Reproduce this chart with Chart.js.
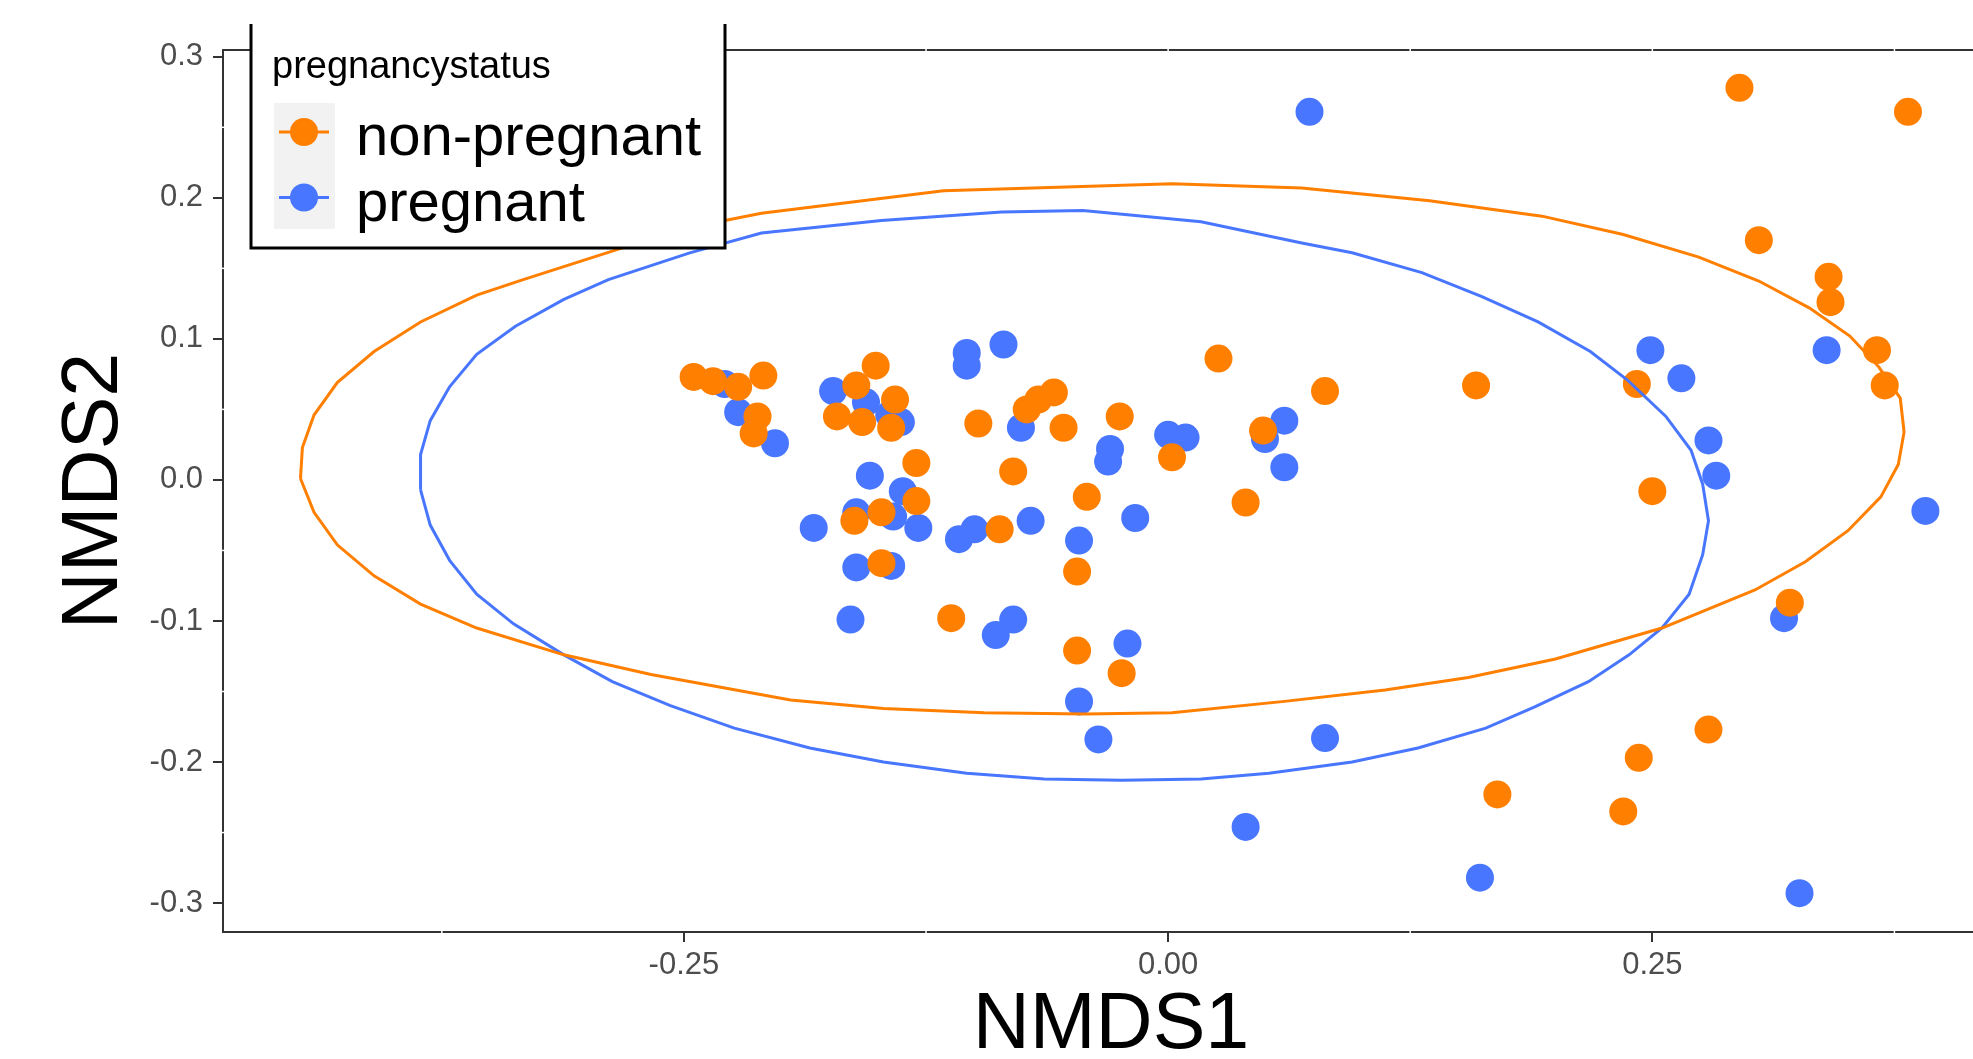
<!DOCTYPE html>
<html lang="en">
<head>
<meta charset="UTF-8">
<title>NMDS ordination</title>
<script src="https://cdn.jsdelivr.net/npm/chart.js"></script>
<style>
  html, body { margin: 0; padding: 0; background: #fff; overflow: hidden; }
  #wrap { width: 1973px; height: 1059px; overflow: hidden; }
</style>
</head>
<body>
<div id="wrap"><canvas id="nmds" width="2013" height="1059"></canvas></div>
<script>
// groups and axis breaks
const groups = ['non-pregnant', 'pregnant'];
const legendTitle = 'pregnancystatus';
const xTicks = [-0.25, 0, 0.25];
const yTicks = [-0.3, -0.2, -0.1, 0, 0.1, 0.2, 0.3];
const xMinor = [-0.375, -0.125, 0.125, 0.375];
const yMinor = [-0.25, -0.15, -0.05, 0.05, 0.15, 0.25];

// site scores, non-pregnant
const nonPregX = [-0.245, -0.235, -0.222, -0.209, -0.212, -0.214, -0.151, -0.161, -0.141, -0.171,
  -0.158, -0.143, -0.098, -0.059, -0.067, -0.073, -0.054, -0.025, 0.002, -0.130,
  -0.130, -0.148, -0.162, -0.087, -0.080, -0.042, -0.047, -0.148, -0.112, -0.047,
  -0.024, 0.026, 0.081, 0.049, 0.040, 0.159, 0.242, 0.250, 0.243, 0.170,
  0.235, 0.321, 0.279, 0.295, 0.382, 0.305, 0.341, 0.342, 0.366, 0.370];
const nonPregY = [0.073, 0.070, 0.066, 0.074, 0.045, 0.033, 0.081, 0.067, 0.057, 0.045,
  0.041, 0.037, 0.040, 0.062, 0.057, 0.050, 0.037, 0.045, 0.016, 0.012,
  -0.015, -0.023, -0.029, -0.035, 0.006, -0.012, -0.065, -0.059, -0.098, -0.121,
  -0.137, 0.086, 0.063, 0.035, -0.016, 0.067, 0.068, -0.008, -0.197, -0.223,
  -0.235, -0.087, -0.177, 0.278, 0.261, 0.170, 0.144, 0.126, 0.092, 0.067];

// site scores, pregnant
const pregX = [-0.229, -0.222, -0.203, -0.173, -0.156, -0.144, -0.138, -0.104, -0.104, -0.085,
  -0.076, -0.030, -0.031, 0.000, 0.009, -0.154, -0.137, -0.161, -0.142, -0.183,
  -0.129, -0.108, -0.100, -0.071, -0.046, -0.017, -0.161, -0.143, -0.164, -0.080,
  -0.089, -0.021, -0.046, -0.036, 0.050, 0.060, 0.060, 0.249, 0.265, 0.279,
  0.283, 0.081, 0.040, 0.318, 0.161, 0.326, 0.340, 0.391, 0.073];
const pregY = [0.068, 0.048, 0.026, 0.063, 0.055, 0.046, 0.041, 0.090, 0.081, 0.096,
  0.037, 0.022, 0.013, 0.032, 0.030, 0.003, -0.008, -0.023, -0.026, -0.034,
  -0.034, -0.042, -0.035, -0.029, -0.043, -0.027, -0.062, -0.061, -0.099, -0.099,
  -0.110, -0.116, -0.157, -0.184, 0.029, 0.042, 0.009, 0.092, 0.072, 0.028,
  0.003, -0.183, -0.246, -0.098, -0.282, -0.293, 0.092, -0.022, 0.261];

// ellipse outlines
const ellNonPregX = [-0.448, -0.447, -0.441, -0.429, -0.410, -0.386, -0.357, -0.333, -0.283, -0.247,
  -0.210, -0.116, 0.002, 0.069, 0.135, 0.193, 0.235, 0.274, 0.305, 0.331,
  0.352, 0.367, 0.378, 0.380, 0.377, 0.368, 0.351, 0.329, 0.303, 0.255,
  0.200, 0.155, 0.112, 0.060, 0.002, -0.043, -0.095, -0.147, -0.195, -0.267,
  -0.312, -0.357, -0.386, -0.410, -0.429, -0.441, -0.448];
const ellNonPregY = [0.001, 0.023, 0.046, 0.069, 0.091, 0.112, 0.131, 0.142, 0.164, 0.179,
  0.189, 0.205, 0.210, 0.207, 0.198, 0.187, 0.174, 0.158, 0.141, 0.122,
  0.102, 0.080, 0.058, 0.034, 0.011, -0.012, -0.036, -0.058, -0.078, -0.105,
  -0.127, -0.140, -0.149, -0.157, -0.165, -0.166, -0.165, -0.162, -0.156, -0.138,
  -0.124, -0.105, -0.088, -0.068, -0.046, -0.023, 0.001];
const ellPregX = [-0.386, -0.386, -0.381, -0.371, -0.357, -0.337, -0.312, -0.289, -0.247, -0.210,
  -0.148, -0.086, -0.044, 0.017, 0.069, 0.095, 0.131, 0.162, 0.191, 0.218,
  0.237, 0.257, 0.270, 0.276, 0.279, 0.276, 0.269, 0.255, 0.238, 0.217,
  0.189, 0.164, 0.129, 0.095, 0.052, 0.017, -0.024, -0.064, -0.104, -0.147,
  -0.185, -0.224, -0.257, -0.287, -0.312, -0.338, -0.357, -0.371, -0.381, -0.386];
const ellPregY = [-0.007, 0.018, 0.042, 0.066, 0.089, 0.109, 0.128, 0.142, 0.161, 0.175,
  0.184, 0.190, 0.191, 0.183, 0.168, 0.161, 0.147, 0.130, 0.112, 0.091,
  0.071, 0.045, 0.021, -0.003, -0.029, -0.053, -0.081, -0.105, -0.124, -0.143,
  -0.161, -0.176, -0.190, -0.200, -0.208, -0.212, -0.213, -0.212, -0.208, -0.200,
  -0.190, -0.176, -0.160, -0.143, -0.124, -0.102, -0.081, -0.057, -0.032, -0.007];

const colors = ['#FF7F00', '#4876FF'];
const axisColor = '#333333';
const tickText = '#4D4D4D';
const fontFamily = '"Liberation Sans", Arial, Helvetica, sans-serif';

const toXY = (xs, ys) => xs.map((x, i) => ({ x: x, y: ys[i] }));

// panel border on top, ggplot-style white grid cuts and the boxed legend
const panelExtras = {
  id: 'panelExtras',
  afterDraw(chart) {
    const { ctx, chartArea: a, scales: { x, y } } = chart;
    ctx.save();
    ctx.strokeStyle = axisColor;
    ctx.lineWidth = 2;
    ctx.beginPath();
    ctx.moveTo(a.left - 1, a.top);
    ctx.lineTo(a.right, a.top);
    ctx.stroke();

    ctx.strokeStyle = '#ffffff';
    ctx.lineWidth = 1.5;
    xMinor.concat(xTicks).forEach(v => {
      const px = x.getPixelForValue(v);
      ctx.beginPath();
      ctx.moveTo(px, a.top - 2); ctx.lineTo(px, a.top + 2);
      if (xMinor.includes(v)) { ctx.moveTo(px, a.bottom - 2); ctx.lineTo(px, a.bottom + 2); }
      ctx.stroke();
    });
    yMinor.forEach(v => {
      const py = y.getPixelForValue(v);
      ctx.beginPath();
      ctx.moveTo(a.left - 2, py); ctx.lineTo(a.left + 2, py);
      ctx.stroke();
    });

    // legend
    ctx.fillStyle = '#ffffff';
    ctx.fillRect(251, 24, 474, 224);
    ctx.strokeStyle = '#000000';
    ctx.lineWidth = 3;
    ctx.beginPath();
    ctx.moveTo(251, 24); ctx.lineTo(251, 248); ctx.lineTo(725, 248); ctx.lineTo(725, 24);
    ctx.stroke();

    ctx.fillStyle = '#000000';
    ctx.textAlign = 'left';
    ctx.textBaseline = 'alphabetic';
    ctx.font = '38px ' + fontFamily;
    ctx.fillText(legendTitle, 272, 78);

    ctx.fillStyle = '#F2F2F2';
    ctx.fillRect(274, 103, 61, 126);

    const rows = [132, 197.5];
    groups.forEach((g, i) => {
      ctx.strokeStyle = colors[i];
      ctx.lineWidth = 3;
      ctx.beginPath();
      ctx.moveTo(279, rows[i]); ctx.lineTo(329, rows[i]);
      ctx.stroke();
      ctx.fillStyle = colors[i];
      ctx.beginPath();
      ctx.arc(304, rows[i], 14, 0, Math.PI * 2);
      ctx.fill();
      ctx.fillStyle = '#000000';
      ctx.font = '58px ' + fontFamily;
      ctx.fillText(g, 356, rows[i] + 23);
    });
    ctx.restore();
  }
};

const ctx = document.getElementById('nmds').getContext('2d');
new Chart(ctx, {
  type: 'scatter',
  data: {
    datasets: [
      {
        label: groups[0] + ' ellipse',
        data: toXY(ellNonPregX, ellNonPregY),
        showLine: true, pointRadius: 0, borderColor: colors[0], borderWidth: 3,
        fill: false, tension: 0, order: 0
      },
      {
        label: groups[1] + ' ellipse',
        data: toXY(ellPregX, ellPregY),
        showLine: true, pointRadius: 0, borderColor: colors[1], borderWidth: 3,
        fill: false, tension: 0, order: 0
      },
      {
        label: groups[0],
        data: toXY(nonPregX, nonPregY),
        pointRadius: 14, pointBorderWidth: 0,
        backgroundColor: colors[0], borderColor: colors[0], order: 1
      },
      {
        label: groups[1],
        data: toXY(pregX, pregY),
        pointRadius: 14, pointBorderWidth: 0,
        backgroundColor: colors[1], borderColor: colors[1], order: 2
      }
    ]
  },
  options: {
    responsive: false,
    devicePixelRatio: 1,
    animation: false,
    events: [],
    layout: { padding: { top: 50, left: 0, right: 0, bottom: 0 } },
    plugins: { legend: { display: false }, tooltip: { enabled: false } },
    scales: {
      x: {
        type: 'linear',
        min: -0.488,
        max: 0.429,
        afterBuildTicks: s => { s.ticks = xTicks.map(v => ({ value: v })); },
        afterFit: s => { s.height = 127; },
        ticks: {
          color: tickText,
          font: { family: fontFamily, size: 31 },
          padding: 5,
          maxRotation: 0,
          callback: v => v.toFixed(2)
        },
        grid: { display: true, drawOnChartArea: false, drawTicks: true, tickLength: 10, color: axisColor, lineWidth: 2 },
        border: { display: true, color: axisColor, width: 2 },
        title: {
          display: true, text: 'NMDS1', color: '#000000',
          font: { family: fontFamily, size: 79, lineHeight: 0.9 },
          padding: { top: 0, bottom: -3 }
        }
      },
      y: {
        type: 'linear',
        min: -0.3205,
        max: 0.3048,
        afterBuildTicks: s => { s.ticks = yTicks.map(v => ({ value: v })); },
        afterFit: s => { s.width = 223; },
        ticks: {
          color: tickText,
          font: { family: fontFamily, size: 31 },
          padding: 10,
          callback: v => v.toFixed(1)
        },
        grid: { display: true, drawOnChartArea: false, drawTicks: true, tickLength: 10, color: axisColor, lineWidth: 2 },
        border: { display: true, color: axisColor, width: 2 },
        title: {
          display: true, text: 'NMDS2', color: '#000000',
          font: { family: fontFamily, size: 79, lineHeight: 0.9 },
          padding: { top: 60, bottom: 0 }
        }
      }
    }
  },
  plugins: [panelExtras]
});
</script>
</body>
</html>
